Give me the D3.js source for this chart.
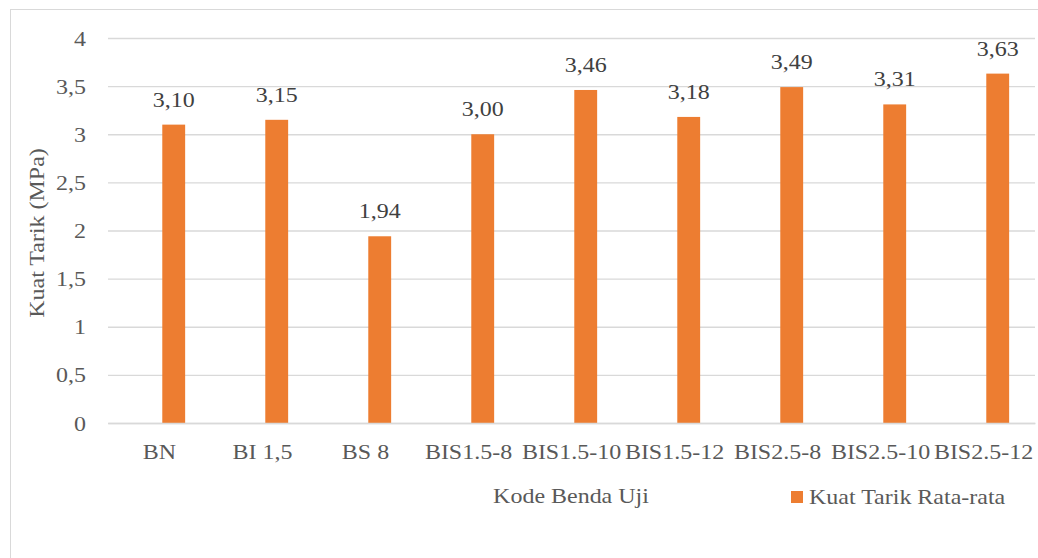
<!DOCTYPE html>
<html><head><meta charset="utf-8">
<script src="https://cdn.jsdelivr.net/npm/d3@7"></script>
<style>body{margin:0;background:#fff}svg{display:block}</style>
</head><body>
<svg id="c" width="1038" height="558"></svg>
<script>
const categories = ["BN","BI 1,5","BS 8","BIS1.5-8","BIS1.5-10","BIS1.5-12","BIS2.5-8","BIS2.5-10","BIS2.5-12"];
const values = [3.10,3.15,1.94,3.00,3.46,3.18,3.49,3.31,3.63];
const yTicks = [0,0.5,1,1.5,2,2.5,3,3.5,4];
const seriesName = "Kuat Tarik Rata-rata";
const xTitle = "Kode Benda Uji";
const yTitle = "Kuat Tarik (MPa)";

const FONT = '"Liberation Serif", "Times New Roman", serif';
const svg = d3.select("#c").style("font-family", FONT);
const fs = 22, SX = 1.09;
const fmt = v => d3.format(".2f")(v).replace(".", ",");
const fmtTick = v => String(v).replace(".", ",");

// outer border
svg.append("rect").attr("x",10.5).attr("y",9.5).attr("width",1100).attr("height",600)
  .attr("fill","none").attr("stroke","#d9d9d9").attr("stroke-width",1);

const L = 108, R = 1035;
const x = d3.scaleBand().domain(categories).range([L,R]).padding(0);
const barOff = x.bandwidth()*0.527, barW = x.bandwidth()*0.222;
const y = d3.scaleLinear().domain([0,4]).range([423,38]);

// gridlines + y tick labels
const yAxis = d3.axisLeft(y).tickValues(yTicks).tickSize(-(R-L)).tickFormat(fmtTick).tickPadding(22);
const ga = svg.append("g").attr("transform",`translate(${L},0)`).call(yAxis);
ga.attr("font-family", null).style("font-family", FONT);
ga.select(".domain").remove();
ga.selectAll(".tick line").attr("stroke","#d9d9d9").attr("stroke-width",1.3);
ga.selectAll(".tick text").attr("font-size",fs).attr("fill","#595959").style("font-family",FONT)
  .attr("x",-22/SX).attr("transform",`scale(${SX},1)`);

// bars
svg.append("g").selectAll("rect").data(values).join("rect")
  .attr("x",(d,i)=>x(categories[i])+barOff).attr("width",barW)
  .attr("y",d=>y(d)).attr("height",d=>y(0)-y(d)).attr("fill","#ED7D31");

// value labels
svg.append("g").selectAll("text").data(values).join("text")
  .attr("transform",(d,i)=>`translate(${x(categories[i])+barOff+barW/2},${y(d)-18}) scale(${SX},1)`)
  .attr("text-anchor","middle").attr("font-size",fs).style("font-family",FONT).attr("fill","#404040").text(fmt);

// x axis
const xAxis = d3.axisBottom(x).tickSize(0).tickPadding(20);
const gx = svg.append("g").attr("transform","translate(0,423)").call(xAxis);
gx.attr("font-family", null).style("font-family", FONT);
gx.select(".domain").attr("stroke","#d9d9d9").attr("stroke-width",1.5);
gx.selectAll(".tick text").attr("font-size",fs).attr("fill","#595959").style("font-family",FONT)
  .attr("transform",`scale(${SX},1)`);

// titles
svg.append("text").attr("transform",`translate(571,503) scale(${SX},1)`).attr("text-anchor","middle").attr("font-size",fs).style("font-family",FONT).attr("fill","#595959").text(xTitle);
svg.append("text").attr("transform",`translate(44,233) rotate(-90) scale(${SX},1)`).attr("text-anchor","middle").attr("font-size",fs).style("font-family",FONT).attr("fill","#595959").text(yTitle);

// legend
svg.append("rect").attr("x",791).attr("y",491).attr("width",12).attr("height",12).attr("fill","#ED7D31");
svg.append("text").attr("transform",`translate(809,504) scale(${SX},1)`).attr("font-size",fs).style("font-family",FONT).attr("fill","#595959").text(seriesName);
</script>
</body></html>
